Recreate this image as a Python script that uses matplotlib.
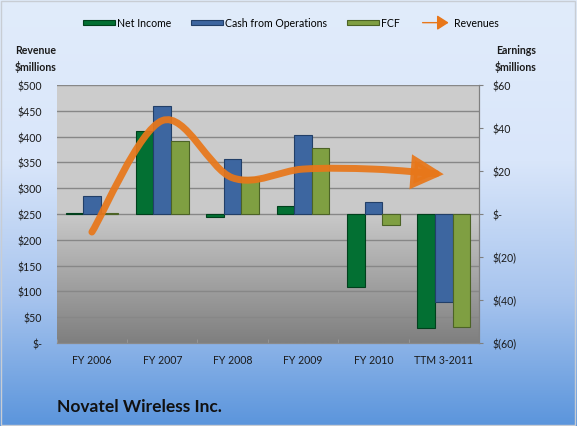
import numpy as np
import matplotlib
matplotlib.use('Agg')
import matplotlib.pyplot as plt
from matplotlib.patches import Patch, FancyArrowPatch, Rectangle
from matplotlib.path import Path
from matplotlib.legend_handler import HandlerPatch
from matplotlib.colors import LinearSegmentedColormap
from matplotlib.ticker import FuncFormatter, MultipleLocator

plt.rcParams['font.family'] = ['Lato', 'DejaVu Sans']

# data ($ millions)
periods = ['FY 2006', 'FY 2007', 'FY 2008', 'FY 2009', 'FY 2010', 'TTM 3-2011']
revenues = [215, 431, 320, 337, 337, 327]
net_income = [0.3, 38.7, -1.5, 3.5, -34.0, -52.9]
cash_ops = [8.2, 50.0, 25.7, 36.8, 5.4, -41.0]
fcf = [0.3, 34.0, 17.0, 30.6, -5.0, -52.4]

c_ni, c_cfo, c_fcf = '#037033', '#3D66A0', '#7F9F42'
e_ni, e_cfo, e_fcf = '#00401C', '#223F68', '#4C6326'
orange = '#E8771A'
small = 7.6

fig = plt.figure(figsize=(5.77, 4.27), dpi=100)

# figure background gradient
bg = fig.add_axes([0, 0, 1, 1], zorder=-10)
bg_cmap = LinearSegmentedColormap.from_list('bg', [(0, '#5B95DC'), (0.3, '#A7C4EE'),
                                                   (0.62, '#D9E6FA'), (1, '#E1ECFB')])
bg.imshow(np.linspace(0, 1, 256).reshape(-1, 1), cmap=bg_cmap, aspect='auto',
          origin='lower', extent=[0, 1, 0, 1])
bg.set_xlim(0, 1)
bg.set_ylim(0, 1)
bg.axis('off')
bg.add_patch(Rectangle((0.002, 0.003), 0.995, 0.993, fill=False, ec='#C8CDD4', lw=1))

ax1 = fig.add_axes([0.0983, 0.1944, 0.7317, 0.6042])
ax2 = ax1.twinx()

# plot area gradient
pa_cmap = LinearSegmentedColormap.from_list('pa', [(0, '#7F7F7F'), (0.5, '#C9C9C9'),
                                                   (1, '#CDCDCD')])
ax1.imshow(np.linspace(0, 1, 256).reshape(-1, 1), cmap=pa_cmap, aspect='auto',
           origin='lower', extent=[0, 1, 0, 1], transform=ax1.transAxes, zorder=0)

x = np.arange(len(periods))
ax1.set_xlim(-0.5, len(periods) - 0.5)
ax1.set_ylim(0, 500)
ax2.set_ylim(-60, 60)

ax1.yaxis.set_major_locator(MultipleLocator(50))
ax2.yaxis.set_major_locator(MultipleLocator(20))
ax1.grid(axis='y', color='#878787', lw=1, zorder=1)
ax1.set_axisbelow(False)

ax1.yaxis.set_major_formatter(FuncFormatter(lambda v, p: '$-' if v == 0 else f'${v:.0f}'))
ax2.yaxis.set_major_formatter(FuncFormatter(
    lambda v, p: '$-' if v == 0 else (f'$({-v:.0f})' if v < 0 else f'${v:.0f}')))

ax1.set_xticks(x)
ax1.set_xticklabels(periods)
ax1.set_xticks(np.arange(len(periods) + 1) - 0.5, minor=True)
ax1.tick_params(axis='x', which='major', length=0, pad=8, labelsize=small, colors='#1a1a1a')
ax1.tick_params(axis='x', which='minor', direction='in', length=3, color='#9A9A9A')
ax1.tick_params(axis='y', length=0, pad=10.5, labelsize=small, colors='#1a1a1a')
ax2.tick_params(axis='y', length=3, pad=7, labelsize=small, colors='#1a1a1a')
ax2.tick_params(axis='y', color='#808080')

for a in (ax1, ax2):
    for s in ('top', 'left'):
        a.spines[s].set_visible(False)
    a.spines['right'].set_color('#808080')
    a.spines['bottom'].set_color('#8A8A8A')
ax2.patch.set_visible(False)

w = 0.25
ax2.bar(x - w, net_income, w, color=c_ni, edgecolor=e_ni, lw=0.8, zorder=3)
ax2.bar(x, cash_ops, w, color=c_cfo, edgecolor=e_cfo, lw=0.8, zorder=3)
ax2.bar(x + w, fcf, w, color=c_fcf, edgecolor=e_fcf, lw=0.8, zorder=3)

# smoothed revenue line (Bezier through the points) ending in an arrow
pts = np.column_stack([x, revenues]).astype(float)
verts = [pts[0]]
codes = [Path.MOVETO]
n = len(pts)
for i in range(n - 1):
    p0, p1 = pts[max(i - 1, 0)], pts[i]
    p2, p3 = pts[i + 1], pts[min(i + 2, n - 1)]
    verts += [p1 + (p2 - p0) / 6, p2 - (p3 - p1) / 6, p2]
    codes += [Path.CURVE4] * 3
rev_path = Path(verts, codes)
arrow = FancyArrowPatch(path=rev_path, arrowstyle='-|>,head_length=16,head_width=8.5',
                        mutation_scale=1, lw=5, color=orange, alpha=0.93,
                        capstyle='round', joinstyle='miter', transform=ax1.transData,
                        zorder=5)
ax2.add_patch(arrow)


def legend_arrow(legend, orig_handle, xdescent, ydescent, width, height, fontsize):
    y = height / 2 - ydescent
    return FancyArrowPatch((-xdescent, y), (-xdescent + width, y),
                           arrowstyle='-|>,head_length=7,head_width=4.5',
                           mutation_scale=1, lw=3, color=orange)


handles = [Patch(facecolor=c_ni, edgecolor=e_ni, lw=0.8),
           Patch(facecolor=c_cfo, edgecolor=e_cfo, lw=0.8),
           Patch(facecolor=c_fcf, edgecolor=e_fcf, lw=0.8),
           FancyArrowPatch((0, 0), (1, 0), color=orange)]
labels = ['Net Income', 'Cash from Operations', 'FCF', 'Revenues']
fig.legend(handles, labels, loc='center', bbox_to_anchor=(0.504, 0.944), ncol=4,
           frameon=False, fontsize=small, handlelength=3.0, handleheight=0.45,
           handletextpad=0.2, columnspacing=1.9,
           handler_map={FancyArrowPatch: HandlerPatch(patch_func=legend_arrow)})

fig.text(35.5 / 577, 1 - 59 / 427, 'Revenue\n$millions', ha='center', va='center',
         fontsize=small, fontweight='bold', linespacing=1.5, color='#1a1a1a')
fig.text(516 / 577, 1 - 59 / 427, 'Earnings\n$millions', ha='center', va='center',
         fontsize=small, fontweight='bold', linespacing=1.5, color='#1a1a1a')
fig.text(57 / 577, 1 - 407 / 427, 'Novatel Wireless Inc.', ha='left', va='center',
         fontsize=12.5, fontweight='bold', color='#111111')

fig.savefig('out.png', dpi=100)
